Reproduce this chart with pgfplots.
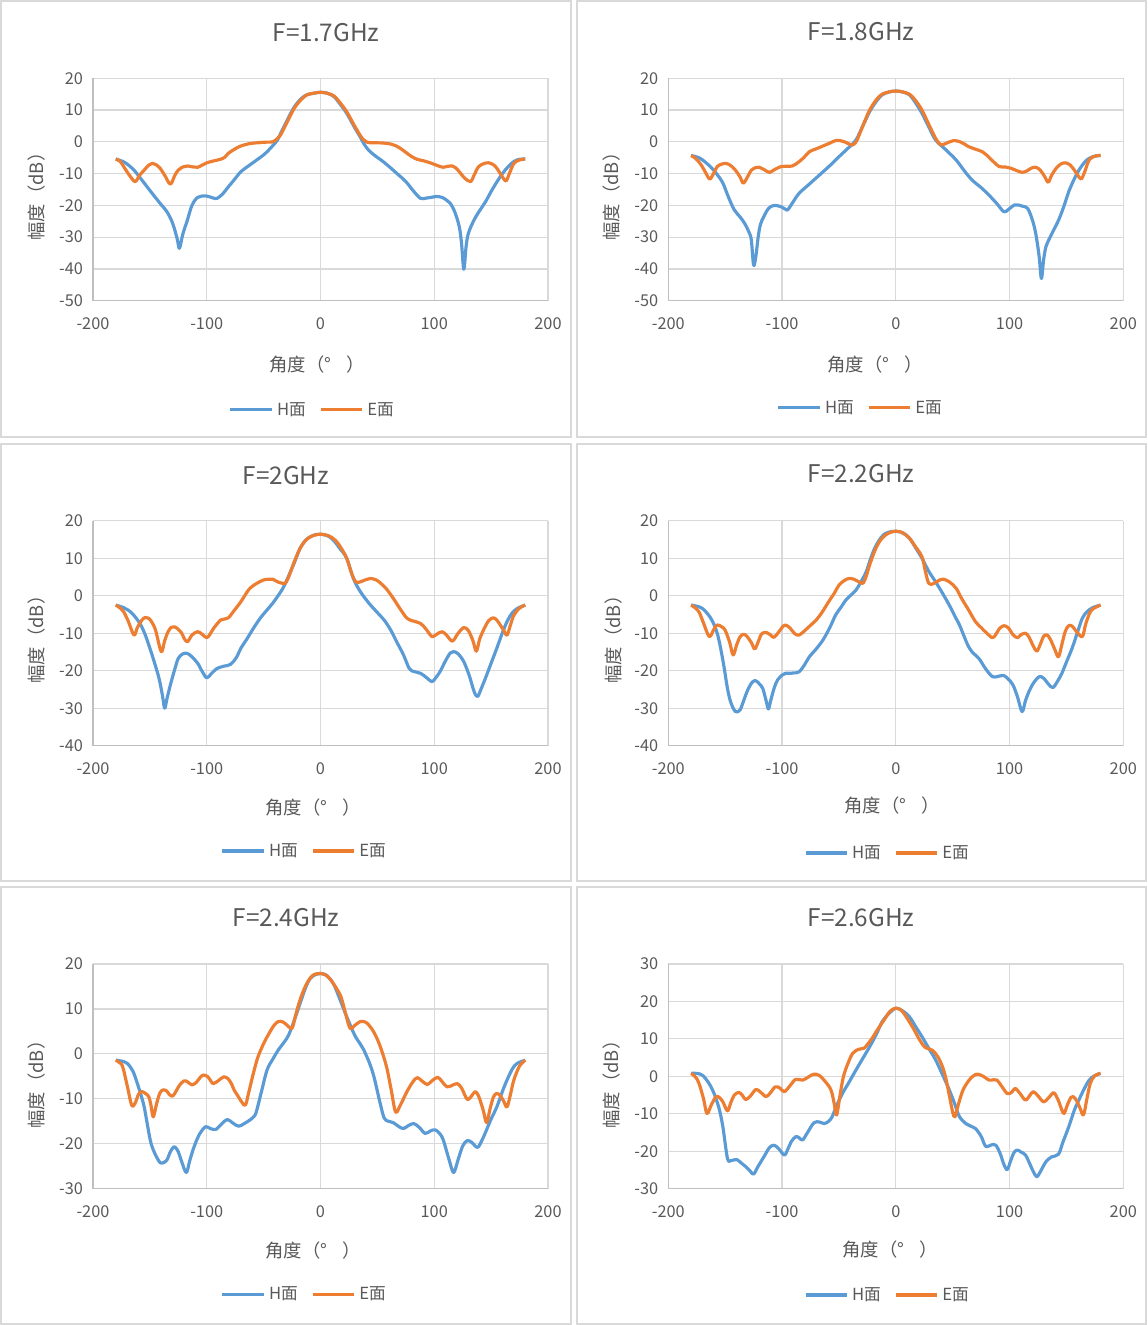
\documentclass[border=0pt]{standalone}
\usepackage{fontspec}
\setmainfont{Noto Sans CJK SC}
\usepackage{pgfplots}
\pgfplotsset{compat=1.18}
\definecolor{hblue}{HTML}{5B9BD5}
\definecolor{eorange}{HTML}{ED7D31}
\definecolor{gridc}{HTML}{D9D9D9}
\definecolor{axc}{HTML}{BFBFBF}
\definecolor{txt}{HTML}{595959}
\definecolor{framec}{HTML}{D9D9D9}
\pgfplotsset{
 panel/.style={
  scale only axis, width=273pt,
  xmin=-200, xmax=200, enlargelimits=false,
  xtick={-200,-100,0,100,200},
  axis lines=left,
  axis line style={-, draw=axc, line width=0.8pt},
  grid=major, major grid style={draw=gridc, line width=0.7pt},
  major tick length=0pt,
  tick label style={font=\fontsize{9.8}{11}\selectfont, text=txt},
  yticklabel style={xshift=-2.5pt},
  xticklabel style={yshift=-6.5pt},
  /pgf/number format/assume math mode=true,
  legend columns=2,
  legend style={draw=none, fill=none, font=\fontsize{10}{11}\selectfont, text=txt, anchor=center,
     /tikz/every even column/.append style={column sep=6pt}},
  legend image code/.code={\draw[#1] (0pt,0pt) -- (25pt,0pt);},
  every axis plot/.append style={line width=1.9pt, smooth, tension=0.55, no markers, line join=round},
 },
}
\begin{document}
\begin{tikzpicture}[x=0.6pt,y=-0.6pt]
\useasboundingbox (0,0) rectangle (1147,1325);
\draw[framec, line width=1.2pt] (1,1) rectangle (571,437);
\draw[framec, line width=1.2pt] (577,1) rectangle (1146,437);
\draw[framec, line width=1.2pt] (1,444) rectangle (571,881);
\draw[framec, line width=1.2pt] (577,444) rectangle (1146,881);
\draw[framec, line width=1.2pt] (1,887) rectangle (571,1324);
\draw[framec, line width=1.2pt] (577,887) rectangle (1146,1324);

% ---------- Panel 1: 1.7 GHz
\begin{axis}[panel, at={(55.8pt,-180.42pt)}, anchor=south west, height=133.44pt,
  ymin=-50, ymax=20, ytick={-50,-40,-30,-20,-10,0,10,20},
  legend style={at={(0.4835,-0.491)}}]
\addplot[hblue] coordinates {
(-180,-5.4)(-172,-6.5)(-164,-8.9)(-156,-12.5)(-148,-16.2)(-140,-19.8)(-135,-22)(-130,-25.6)(-126,-30.5)(-124,-33.5)(-121,-29)(-117,-24.6)(-113,-20)(-108,-17.5)(-101,-17)(-95,-17.6)(-91,-17.8)(-86,-16.4)(-82,-14.6)(-76,-12)(-70,-9.4)(-63,-7.5)(-56,-5.7)(-49,-3.8)(-44,-2)(-38,0.5)(-35,2.7)(-29,7)(-23,11)(-17,13.6)(-12,14.8)(-6,15.3)(0,15.6)(6,15.3)(12,14.2)(17,12)(23,9)(30,4.5)(35,1.5)(38,-0.5)(42,-2.5)(47,-4.1)(55,-6.2)(62,-8.3)(67,-9.9)(75,-12.5)(82,-15.6)(88,-17.8)(93,-17.7)(97,-17.5)(102,-17.2)(107,-17.5)(111,-18.4)(114,-19.3)(118,-22)(122,-26.7)(124,-32)(126,-40.1)(128,-33)(130,-28.8)(135,-24.6)(140,-21.6)(145,-18.9)(151,-15)(158,-11)(164,-8.2)(170,-6.2)(175,-5.5)(180,-5.4)};
\addlegendentry{H面}
\addplot[eorange] coordinates {
(-180,-5.4)(-176,-6.2)(-173,-7.8)(-168,-10.5)(-163,-12.5)(-159,-10.5)(-155,-8.9)(-151,-7.3)(-148,-6.8)(-144,-7.3)(-141,-8.3)(-137,-10.5)(-132,-13.3)(-128,-10.5)(-125,-8.9)(-121,-7.9)(-117,-7.6)(-112,-7.9)(-108,-8)(-104,-7.3)(-100,-6.6)(-94,-6)(-88,-5.5)(-84,-4.8)(-81,-3.6)(-75,-2.2)(-70,-1.3)(-63,-0.6)(-56,-0.3)(-48,-0.1)(-42,0)(-38,1)(-35,2.2)(-29,6.5)(-23,10.6)(-17,13.3)(-12,14.8)(-6,15.3)(0,15.6)(6,15.3)(12,14.4)(17,12.4)(23,9.5)(30,5)(35,2)(38,0.6)(41,-0.1)(44,-0.3)(50,-0.3)(56,-0.4)(62,-0.7)(66,-1.2)(70,-2)(75,-3.3)(80,-4.6)(85,-5.5)(91,-6)(98,-6.8)(103,-7.5)(108,-8)(112,-7.7)(116,-7.6)(119,-8.2)(122,-9.4)(127,-11.5)(132,-12.5)(135,-10.5)(139,-7.8)(144,-6.8)(148,-6.6)(152,-7.2)(155,-8.3)(159,-10.5)(163,-12.3)(166,-10)(170,-6.8)(175,-5.7)(180,-5.4)};
\addlegendentry{E面}
\end{axis}

% ---------- Panel 2: 1.8 GHz
\begin{axis}[panel, at={(400.98pt,-180.42pt)}, anchor=south west, height=133.44pt,
  ymin=-50, ymax=20, ytick={-50,-40,-30,-20,-10,0,10,20},
  legend style={at={(0.4235,-0.482)}}]
\addplot[hblue] coordinates {
(-180,-4.3)(-172,-5.2)(-163,-7.8)(-157,-10.3)(-152,-13)(-147,-17.5)(-142,-21.4)(-137,-23.6)(-133,-25.6)(-129,-28.5)(-127,-30.9)(-125,-38.8)(-123,-36)(-121,-30)(-119,-26)(-116,-23.5)(-112,-21)(-108,-20.1)(-104,-20.1)(-101,-20.4)(-97,-21.2)(-95,-21.4)(-91,-19.3)(-85,-16.2)(-76,-13.3)(-67,-10.4)(-58,-7.5)(-50,-4.7)(-42,-2)(-35,0.6)(-29,5)(-23,9.5)(-17,12.8)(-12,14.8)(-6,15.7)(0,16)(6,15.7)(12,14.8)(17,12.5)(23,9)(29,4.7)(35,0.6)(44,-2.5)(53,-5.7)(60,-9)(67,-12)(75,-14.4)(82,-16.8)(89,-19.5)(95,-22)(99,-21.3)(104,-19.9)(108,-19.9)(112,-20.3)(116,-21)(120,-24.5)(123,-28.8)(126,-36)(128,-43)(130,-37)(132,-33)(135,-30.5)(138,-28.3)(142,-25.5)(145,-23)(149,-19)(152,-15.7)(157,-11.6)(161,-8.9)(166,-6.4)(170,-5.2)(175,-4.5)(180,-4.3)};
\addlegendentry{H面}
\addplot[eorange] coordinates {
(-180,-4.3)(-176,-5.2)(-171,-7.3)(-167,-9.8)(-163.5,-11.7)(-160,-9.8)(-157,-7.8)(-153,-7)(-149,-6.8)(-145,-7.5)(-141,-8.9)(-137,-11)(-134,-13)(-130,-10.8)(-127,-8.9)(-123,-8.1)(-120,-8)(-115,-8.9)(-111,-9.6)(-106,-8.6)(-101,-7.8)(-96,-7.7)(-91,-7.6)(-86,-6.5)(-81,-5)(-76,-3.1)(-70,-2.2)(-64,-1.3)(-58,-0.4)(-53,0.4)(-49,0.4)(-45,0)(-41,-0.7)(-38,-1)(-36,-0.5)(-34,0.6)(-29,5)(-23,10)(-17,13.3)(-12,15)(-6,15.7)(0,16)(6,15.7)(12,15)(17,13.2)(23,10)(29,5.5)(35,1.1)(38,-0.4)(40,-1)(44,-0.5)(48,0.1)(51,0.4)(56,0.1)(60,-0.6)(64,-1.5)(70,-2.3)(76,-3.1)(80,-4.2)(86,-6.3)(91,-7.8)(96,-7.9)(101,-8.3)(106,-9)(111,-9.6)(115,-9.2)(119,-8.3)(123,-8)(127,-8.9)(131,-11)(134,-12.7)(137,-10.5)(141,-8.3)(145,-7)(149,-6.6)(153,-7.2)(157,-8.9)(160,-10.5)(163,-11.7)(166,-9.5)(170,-5.7)(175,-4.5)(180,-4.3)};
\addlegendentry{E面}
\end{axis}

% ---------- Panel 3: 2 GHz
\begin{axis}[panel, at={(55.8pt,-447.42pt)}, anchor=south west, height=135pt,
  ymin=-40, ymax=20, ytick={-40,-30,-20,-10,0,10,20},
  legend style={at={(0.466,-0.468)}}]
\addplot[hblue] coordinates {
(-180,-2.5)(-173,-3.2)(-167,-4.3)(-162,-6)(-158,-7.8)(-154,-10.5)(-150,-14)(-146,-17.8)(-142,-22)(-139,-26.5)(-137,-30)(-135,-27.5)(-132,-23.8)(-128,-19.5)(-125,-16.7)(-121,-15.5)(-117,-15.4)(-113,-16.3)(-108,-18)(-104,-20.2)(-100,-21.9)(-96,-20.8)(-91,-19.4)(-85,-18.8)(-79,-18.3)(-74,-16.5)(-70,-14)(-64,-11.2)(-59,-8.7)(-53,-6)(-47,-3.8)(-42,-2)(-38,-0.3)(-33,2)(-29,4.6)(-23,8.8)(-18,12.6)(-13,14.8)(-9,15.7)(-4,16.3)(0,16.4)(4,16.2)(8,15.7)(12,14.6)(17,12.6)(23,10)(29,4.5)(35,1.1)(40,-1)(44,-2.5)(50,-4.5)(56,-6.5)(62,-9.3)(67,-12.3)(73,-15.8)(78,-19.4)(82,-20.2)(88,-20.7)(93,-21.8)(98,-22.9)(101,-22)(105,-20.3)(110,-17.3)(114,-15.3)(117,-14.9)(121,-15.5)(126,-17.6)(131,-21.5)(135,-25.5)(138,-26.9)(141,-25)(145,-22)(150,-18)(155,-14)(160,-9.8)(164,-6.9)(168,-4.8)(173,-3.4)(180,-2.5)};
\addlegendentry{H面}
\addplot[eorange] coordinates {
(-180,-2.5)(-176,-3.3)(-173,-4.3)(-169,-6.8)(-164,-10.5)(-161,-8.5)(-157,-6.5)(-154,-5.8)(-151,-6)(-148,-7.2)(-145,-9.2)(-140,-14.9)(-137,-12)(-134,-9.6)(-131,-8.4)(-128,-8.3)(-125,-9)(-122,-10)(-120,-11.3)(-117,-12.3)(-113,-10.5)(-108,-9.6)(-104,-10.3)(-100,-11.2)(-97,-10.2)(-94,-8.7)(-90,-7.2)(-88,-6.5)(-84,-6.2)(-81,-5.9)(-76,-4)(-70,-1.6)(-66,0.3)(-62,2)(-56,3.3)(-50,4.2)(-45,4.4)(-42,4.4)(-37,3.6)(-33,3.3)(-31,3.3)(-28,5)(-23,9.1)(-18,12.6)(-13,14.8)(-7,16)(0,16.4)(7,16)(13,14.8)(18,12.8)(23,10)(27,6.3)(31,3.7)(35,3.7)(40,4.3)(44,4.6)(49,4.2)(53,3.3)(58,1.8)(64,-0.7)(70,-3.5)(76,-6)(81,-6.7)(88,-7.4)(93,-9)(98,-10.9)(102,-10.3)(107,-9.6)(111,-10.6)(116,-12.1)(121,-10)(126,-8.5)(130,-9.3)(134,-12)(137,-14.8)(140,-11.5)(144,-8.7)(148,-6.6)(152,-5.9)(155,-6.5)(158,-7.8)(161,-9.2)(164,-10.5)(167,-7.8)(170,-5.2)(175,-3.3)(180,-2.5)};
\addlegendentry{E面}
\end{axis}

% ---------- Panel 4: 2.2 GHz
\begin{axis}[panel, at={(400.98pt,-447.42pt)}, anchor=south west, height=135pt,
  ymin=-40, ymax=20, ytick={-40,-30,-20,-10,0,10,20},
  legend style={at={(0.483,-0.477)}}]
\addplot[hblue] coordinates {
(-180,-2.5)(-175,-2.8)(-170,-3.4)(-165,-5)(-161,-6.9)(-157,-10)(-154,-14)(-151,-19)(-148,-24.7)(-145,-28.5)(-141,-30.9)(-137,-30.5)(-134,-28.2)(-130,-25)(-126,-23)(-123,-22.7)(-120,-23.5)(-117,-24.7)(-114,-28)(-112,-30.2)(-110,-28)(-107,-24.7)(-104,-22.5)(-100,-21.2)(-97,-20.7)(-94,-20.7)(-90,-20.6)(-85,-20.3)(-80,-18.3)(-76,-16.3)(-70,-14.2)(-64,-11.8)(-58,-8.5)(-53,-5.2)(-48,-3)(-44,-1.2)(-39,0.3)(-35,1.5)(-31,3.5)(-26,6.4)(-22,10)(-18,13)(-13,15.5)(-9,16.6)(-4,17.1)(0,17.2)(4,17)(8,16.4)(12,15.4)(17,13)(23,10)(29,6.5)(35,3.7)(41,0.7)(47,-2.5)(52,-5.5)(56,-7.8)(60,-10.8)(64,-13.6)(68,-15.3)(73,-16.7)(79,-19.5)(85,-21.6)(90,-21.5)(95,-21.3)(99,-22.3)(103,-23.8)(107,-27)(111,-30.9)(114,-28)(117,-25.6)(121,-23.3)(126,-21.6)(130,-22)(134,-23.5)(138,-24.5)(142,-22.9)(146,-20.7)(150,-17.7)(155,-14)(160,-9.5)(164,-6)(168,-4.3)(173,-3.2)(180,-2.5)};
\addlegendentry{H面}
\addplot[eorange] coordinates {
(-180,-2.5)(-176,-3.3)(-173,-4.3)(-169,-7.3)(-164,-10.9)(-160,-9)(-157,-7.8)(-153,-8.3)(-150,-9.2)(-146,-12.5)(-143,-15.8)(-140,-13.2)(-137,-11)(-134,-10.3)(-131,-10.8)(-127,-12.5)(-124,-14.2)(-121,-12.3)(-118,-10.2)(-114,-9.8)(-110,-10.5)(-107,-11.1)(-103,-9.7)(-99,-8.1)(-97,-7.8)(-93,-8.6)(-89,-10.1)(-85,-10.5)(-80,-9.3)(-75,-7.9)(-70,-6.5)(-65,-4.5)(-59,-1.6)(-54,0.7)(-50,2.8)(-45,4.1)(-41,4.6)(-37,4.4)(-33,3.8)(-29,3.3)(-26,5.2)(-23,8.2)(-18,12.3)(-13,15)(-7,16.6)(0,17.2)(6,16.8)(12,15.3)(17,13.2)(23,10.4)(26,6.5)(29,3.3)(33,3.2)(38,4.1)(42,4.4)(47,3.7)(53,2)(58,-0.8)(64,-3.8)(70,-6.9)(75,-8.5)(80,-10)(85,-11.2)(88,-10.3)(91,-8.8)(95,-8)(99,-8.6)(103,-10.4)(107,-11.2)(110,-10.4)(114,-10)(117,-11)(121,-13.5)(124,-14.8)(127,-13)(130,-10.8)(133,-10.5)(136,-11.7)(140,-14.5)(143,-16.3)(146,-13)(149,-9.5)(152,-8)(155,-8.1)(159,-9.6)(164,-10.9)(167,-7.5)(171,-4.3)(175,-3.2)(180,-2.5)};
\addlegendentry{E面}
\end{axis}

% ---------- Panel 5: 2.4 GHz
\begin{axis}[panel, at={(55.8pt,-713.22pt)}, anchor=south west, height=134.82pt,
  ymin=-30, ymax=20, ytick={-30,-20,-10,0,10,20},
  legend style={at={(0.466,-0.469)}}]
\addplot[hblue] coordinates {
(-180,-1.4)(-175,-1.6)(-170,-2.1)(-165,-3.8)(-161,-6.6)(-158,-9)(-155,-11.8)(-152,-16)(-149,-19.9)(-145,-22.5)(-141,-24.2)(-138,-24.2)(-135,-23.6)(-132,-21.8)(-129,-20.7)(-127,-21)(-125,-21.8)(-122,-24)(-118,-26.4)(-115,-23.8)(-112,-21.3)(-110,-19.9)(-106,-17.7)(-101,-16.2)(-97,-16.6)(-92,-16.8)(-87,-15.6)(-82,-14.6)(-77,-15.4)(-72,-16.1)(-67,-15.5)(-62,-14.7)(-58,-13.8)(-56,-12.5)(-52,-8.5)(-47,-3.6)(-42,-1.2)(-37,0.9)(-32,2.6)(-28,4.2)(-23,7.5)(-18,11.2)(-13,14.8)(-9,16.8)(-4,17.7)(0,17.9)(4,17.7)(8,16.8)(12,15.3)(17,12.2)(23,8.3)(30,4.2)(35,2.2)(38,0.9)(43,-2)(47,-5.1)(52,-10.5)(56,-14.3)(60,-15)(64,-15.3)(69,-16.2)(73,-16.6)(77,-16)(82,-15.5)(87,-16.4)(92,-17.7)(97,-17.1)(101,-16.9)(105,-17.8)(108,-19.2)(113,-23.5)(117,-26.4)(121,-23.5)(125,-20.5)(129,-19.3)(133,-19.7)(138,-20.8)(142,-19.2)(146,-16.9)(150,-14.5)(155,-11.8)(160,-8.3)(164,-5.8)(169,-3.2)(173,-2.1)(180,-1.4)};
\addlegendentry{H面}
\addplot[eorange] coordinates {
(-180,-1.4)(-177,-1.9)(-174,-2.8)(-170,-7)(-166,-11.4)(-163,-11)(-160,-9)(-157,-8.4)(-154,-8.8)(-151,-9.5)(-149,-11.5)(-147,-14)(-144,-11)(-141,-8.6)(-138,-8)(-135,-8.3)(-133,-9)(-130,-9.4)(-127,-8.3)(-124,-7)(-120,-6)(-117,-6.2)(-113,-6.9)(-109,-6.3)(-106,-5.3)(-103,-4.7)(-99,-5.1)(-96,-6.2)(-94,-6.6)(-90,-6)(-85,-5.1)(-81,-5.6)(-78,-6.8)(-76,-8)(-72,-9.6)(-69,-10.8)(-66,-11.4)(-63,-8.5)(-59,-4.3)(-55,-0.7)(-50,2.3)(-46,4.2)(-41,6.3)(-37,7.2)(-33,7.1)(-29,6.3)(-25,5.7)(-22,8.5)(-18,12)(-13,15.2)(-8,17.2)(-4,17.8)(0,17.9)(4,17.6)(8,16.8)(13,15)(18,12.7)(22,9)(26,5.7)(30,6.3)(35,7.2)(40,7)(45,5.6)(49,3.8)(53,1.3)(58,-2.8)(62,-7.8)(66,-12.9)(70,-11.5)(76,-8.4)(81,-6.3)(85,-5.3)(90,-6.2)(94,-6.8)(98,-6)(103,-5.2)(107,-6.2)(111,-7.3)(115,-7.1)(120,-6.6)(124,-7.6)(129,-10.1)(133,-9.3)(136,-8.4)(139,-9.4)(143,-12.5)(146,-15.3)(149,-12.3)(152,-9.6)(155,-8.8)(158,-9.3)(161,-10.5)(164,-11.8)(167,-9)(170,-5.8)(175,-2.7)(180,-1.4)};
\addlegendentry{E面}
\end{axis}

% ---------- Panel 6: 2.6 GHz
\begin{axis}[panel, at={(400.98pt,-713.22pt)}, anchor=south west, height=134.82pt,
  ymin=-30, ymax=30, ytick={-30,-20,-10,0,10,20,30},
  legend style={at={(0.483,-0.473)}}]
\addplot[hblue] coordinates {
(-180,0.8)(-175,0.8)(-170,0.3)(-165,-1.5)(-161,-3.7)(-158,-6)(-155,-9)(-152,-13.5)(-148,-21.9)(-145,-22.5)(-140,-22.2)(-136,-23.1)(-132,-24.1)(-128,-25.3)(-125,-26.1)(-121,-24)(-116,-21.5)(-111,-19)(-107,-18.4)(-103,-19.3)(-98,-21)(-95,-19.5)(-92,-17.5)(-88,-16.1)(-85,-16.4)(-82,-17)(-78,-15.2)(-72,-12.4)(-67,-12.2)(-63,-12.6)(-59,-12)(-56,-10.8)(-52,-7.8)(-47,-4.6)(-41,-1.5)(-35,1.7)(-29,4.8)(-23,7.9)(-17,11.3)(-12,14.6)(-6,16.8)(0,18.2)(6,17.5)(12,15.9)(17,13.5)(23,10.6)(29,7.5)(35,4.4)(41,0.5)(47,-3.6)(52,-7.5)(56,-10.8)(62,-12.7)(66,-13.3)(70,-13.9)(75,-16)(78,-18.2)(80,-18.8)(84,-18.3)(88,-18.4)(92,-20.8)(95,-23.5)(98,-24.9)(101,-22.5)(104,-20.3)(107,-19.7)(110,-20.2)(114,-21)(118,-23.5)(121,-25.5)(124,-26.8)(127,-25.5)(132,-22.8)(137,-21.5)(143,-20.8)(147,-17.5)(152,-13.5)(157,-9)(161,-6.3)(165,-3.7)(170,-1)(175,0.2)(180,0.8)};
\addlegendentry{H面}
\addplot[eorange] coordinates {
(-180,0.8)(-176,-0.2)(-173,-1.9)(-169,-6)(-166,-9.9)(-162,-7.5)(-158,-5.4)(-155,-5.7)(-152,-6.8)(-148,-9.2)(-145,-7)(-142,-5)(-138,-4.3)(-135,-5)(-132,-6.2)(-128,-5.3)(-123,-3.5)(-119,-4.2)(-114,-5.4)(-110,-4.3)(-106,-2.8)(-102,-3.1)(-98,-4.1)(-93,-2.5)(-88,-0.8)(-82,-1)(-77,-0.2)(-72,0.6)(-67,0.2)(-62,-1.4)(-58,-3)(-56,-4.6)(-54,-7.5)(-52,-10.3)(-49,-5)(-46,0)(-42,3.5)(-38,6.1)(-33,7.2)(-28,7.5)(-25,8.5)(-21,10.1)(-16,12.5)(-10,15.2)(-5,17.4)(0,18.2)(5,17.6)(10,15.5)(16,12.5)(21,9.7)(26,7.7)(32,7)(37,5.2)(41,2.6)(44,-0.5)(47,-5)(50,-9.5)(52,-10.8)(55,-7.5)(59,-3.7)(64,-1.2)(68,0.1)(72,0.6)(77,0)(82,-1)(86,-0.9)(89,-1)(93,-2.6)(98,-4.6)(102,-4.2)(105,-3.2)(109,-4.5)(114,-6.3)(118,-5)(121,-4.1)(125,-5.2)(130,-6.8)(135,-5.5)(139,-4.4)(143,-6.5)(146,-9)(148,-9.9)(151,-7.5)(154,-5.6)(156,-5.4)(159,-6.5)(162,-8.5)(165,-10.3)(168,-6)(171,-1.9)(175,0.2)(180,0.8)};
\addlegendentry{E面}
\end{axis}

% ---------- texts
\tikzset{ttl/.style={font=\fontsize{14.6}{16}\selectfont, text=txt},
         lbl/.style={font=\fontsize{11}{12}\selectfont, text=txt}}
\newcommand{\xl}{角度（°\hspace{0.8em}）}
\node[ttl] at (326,33) {F=1.7GHz};
\node[ttl] at (861,32) {F=1.8GHz};
\node[ttl] at (286,476) {F=2GHz};
\node[ttl] at (861,474) {F=2.2GHz};
\node[ttl] at (286,918) {F=2.4GHz};
\node[ttl] at (861,918) {F=2.6GHz};
\node[lbl] at (317,365) {\xl};
\node[lbl] at (875,365) {\xl};
\node[lbl] at (313,808) {\xl};
\node[lbl] at (892,806) {\xl};
\node[lbl] at (313,1251) {\xl};
\node[lbl] at (890,1250) {\xl};
\node[lbl, rotate=90] at (37,192) {幅度（dB）};
\node[lbl, rotate=90] at (612,192) {幅度（dB）};
\node[lbl, rotate=90] at (37,635) {幅度（dB）};
\node[lbl, rotate=90] at (614,635) {幅度（dB）};
\node[lbl, rotate=90] at (37,1080) {幅度（dB）};
\node[lbl, rotate=90] at (612,1080) {幅度（dB）};
\end{tikzpicture}
\end{document}
